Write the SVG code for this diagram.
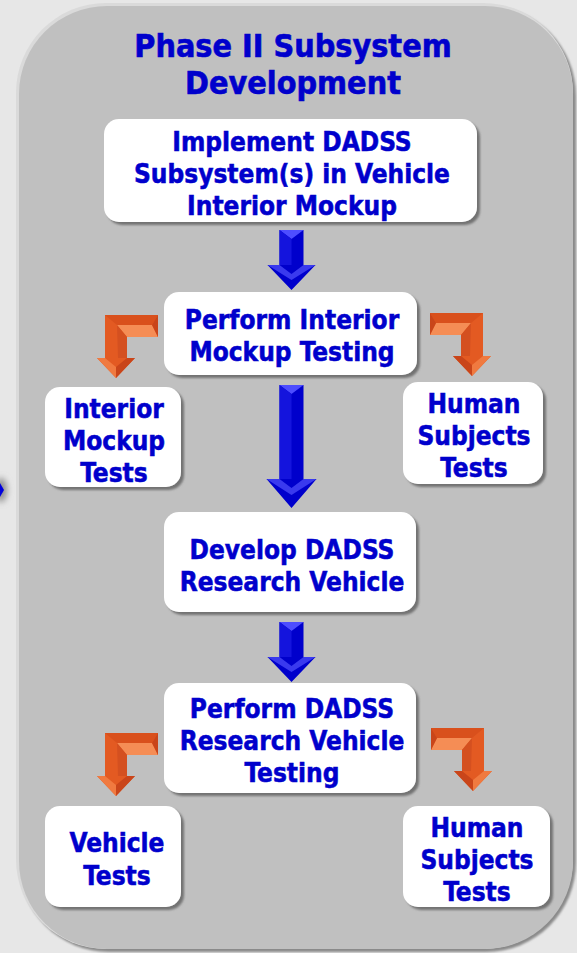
<svg xmlns="http://www.w3.org/2000/svg" width="577" height="953" viewBox="0 0 577 953">
<style>
.t{font-family:"DejaVu Sans","Verdana",sans-serif;font-weight:bold;font-stretch:condensed;font-size:26px;fill:#0000cc;stroke:#0000cc;stroke-width:0.5px;text-anchor:middle}
.ti{font-size:32px;stroke-width:0.6px}
.box{fill:#ffffff;filter:url(#sh)}
</style>
<defs>
<filter id="sh" x="-10%" y="-10%" width="125%" height="125%">
<feDropShadow dx="3" dy="3" stdDeviation="0.8" flood-color="#5a5a5a" flood-opacity="0.75"/>
</filter>
<filter id="blur" x="-50%" y="-50%" width="200%" height="200%"><feGaussianBlur stdDeviation="1.2"/></filter>
<filter id="blur3" x="-100%" y="-100%" width="300%" height="300%"><feGaussianBlur stdDeviation="3"/></filter>
<g id="orange">
<polygon points="0,0 53,0 53,22 22,22 22,43 30,43 11,63 -8,43 0,43" fill="#e35a22"/>
<polygon points="0,0 53,0 47,10 12,10" fill="#d9501c"/>
<polygon points="12,10 47,10 53,22 22,22" fill="#f58d55"/>
<polygon points="47,10 53,0 53,22" fill="#c9451a"/>
<polygon points="12,10 22,22 22,43 13,43" fill="#d45020"/>
<polygon points="-8,43 0,43 11,52 11,63" fill="#f07a40"/>
<polygon points="22,43 30,43 11,63 11,52" fill="#c9451a"/>
</g>
<g id="blueS">
<polygon points="-12,0 12,0 12,35 24,35 0,60 -24,35 -12,35" fill="#0000cc"/>
<polygon points="-12,0 12,0 0,9" fill="#4d4dff"/>
<polygon points="-12,0 0,9 0,35 -12,35" fill="#1414dd"/>
<polygon points="-24,35 -12,35 0,44 12,35 24,35 0,50" fill="#3a3aee"/>
</g>
<g id="blueL">
<polygon points="-12,0 12,0 12,94 25,94 0,123 -25,94 -12,94" fill="#0000cc"/>
<polygon points="-12,0 12,0 0,9" fill="#4d4dff"/>
<polygon points="-12,0 0,9 0,94 -12,94" fill="#1414dd"/>
<polygon points="-25,94 -12,94 0,103 12,94 25,94 0,110" fill="#3a3aee"/>
</g>
</defs>
<rect width="577" height="953" fill="#e7e7e7"/>
<g id="panel">
<rect x="19" y="6" width="557" height="946" rx="90" fill="#8a8a8a" filter="url(#blur)"/>
<rect x="16" y="3" width="557" height="946" rx="90" fill="#dadada"/>
<rect x="19" y="6" width="554" height="943" rx="88" fill="#c0c0c0"/>
</g>
<g id="offscreen-arrow">
<ellipse cx="1" cy="490" rx="6" ry="12" fill="#909090" filter="url(#blur3)"/>
<polygon points="0,483 4,490 0,497" fill="#0000dd"/>
</g>
<g id="title">
<text class="t ti" x="293" y="57">Phase II Subsystem</text>
<text class="t ti" x="293" y="94">Development</text>
</g>
<g id="connectors">
<use href="#blueS" x="291.5" y="230"/>
<use href="#blueL" x="291.5" y="385"/>
<use href="#blueS" x="291.5" y="622"/>
<use href="#orange" transform="translate(105,315)"/>
<use href="#orange" transform="translate(483,313) scale(-1,1)"/>
<use href="#orange" transform="translate(105,733)"/>
<use href="#orange" transform="translate(484,728) scale(-1,1)"/>
</g>
<g id="n1">
<rect class="box" x="104" y="119" width="373" height="103" rx="15"/>
<text class="t" x="292" y="151">Implement DADSS</text>
<text class="t" x="292" y="183">Subsystem(s) in Vehicle</text>
<text class="t" x="292" y="215">Interior Mockup</text>
</g>
<g id="n2">
<rect class="box" x="164" y="292" width="253" height="83" rx="15"/>
<text class="t" x="292" y="329">Perform Interior</text>
<text class="t" x="292" y="361">Mockup Testing</text>
</g>
<g id="n3">
<rect class="box" x="45" y="387" width="136" height="100" rx="15"/>
<text class="t" x="114" y="418">Interior</text>
<text class="t" x="114" y="450">Mockup</text>
<text class="t" x="114" y="482">Tests</text>
</g>
<g id="n4">
<rect class="box" x="403" y="382" width="140" height="102" rx="15"/>
<text class="t" x="474" y="413">Human</text>
<text class="t" x="474" y="445">Subjects</text>
<text class="t" x="474" y="477">Tests</text>
</g>
<g id="n5">
<rect class="box" x="164" y="512" width="252" height="100" rx="15"/>
<text class="t" x="292" y="559">Develop DADSS</text>
<text class="t" x="292" y="591">Research Vehicle</text>
</g>
<g id="n6">
<rect class="box" x="164" y="683" width="252" height="110" rx="15"/>
<text class="t" x="292" y="718">Perform DADSS</text>
<text class="t" x="292" y="750">Research Vehicle</text>
<text class="t" x="292" y="782">Testing</text>
</g>
<g id="n7">
<rect class="box" x="45" y="806" width="136" height="101" rx="15"/>
<text class="t" x="117" y="852">Vehicle</text>
<text class="t" x="117" y="885">Tests</text>
</g>
<g id="n8">
<rect class="box" x="403" y="806" width="147" height="101" rx="15"/>
<text class="t" x="477" y="837">Human</text>
<text class="t" x="477" y="869">Subjects</text>
<text class="t" x="477" y="901">Tests</text>
</g>
</svg>
